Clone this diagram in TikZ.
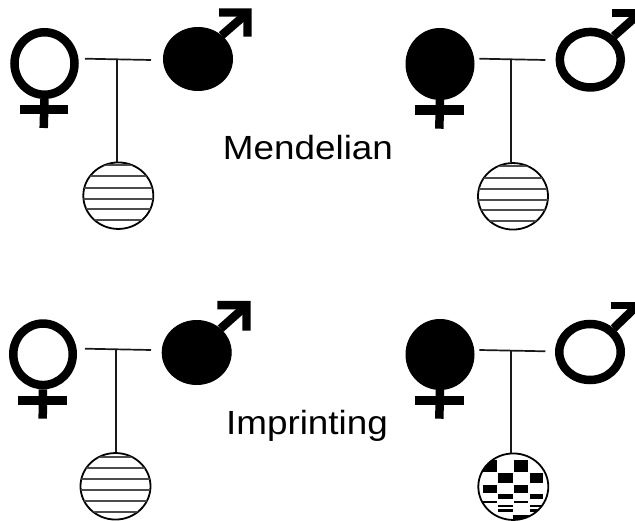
\documentclass[tikz,border=0pt]{standalone}
\usepackage{fontspec}
\setmainfont{Liberation Sans}
\usetikzlibrary{shapes.geometric}

\tikzset{
  sexring/.style={ellipse,draw=black,line width=8.5pt,fill=white,inner sep=0pt},
  sexsolid/.style={ellipse,draw=black,line width=1pt,fill=black,inner sep=0pt},
  childball/.style={ellipse,draw=black,line width=1.8pt,inner sep=0pt,minimum width=70pt,minimum height=66.5pt},
  symline/.style={line width=8.5pt},
  crossline/.style={black!90,line width=1.7pt},
  hatchline/.style={black!70,line width=2.2pt},
  modelabel/.style={anchor=base,xscale=1.1,transform shape,inner sep=0pt,font=\fontsize{33.5}{36}\selectfont}
}

\begin{document}
\begin{tikzpicture}[x=1pt,y=-1pt]
  \clip (0,0) rectangle (635,521);
  %draw upper left family
  \node [sexring,minimum width=60pt,minimum height=62.5pt] (femaleA) at (44.5,63.5) {};
  \node [sexsolid,minimum width=69pt,minimum height=63pt] (maleA) at (198,59) {};
  \coordinate (crossAl) at (85,58.7);
  \coordinate (crossAr) at (151,60);
  \coordinate (crossAm) at (116.7,59.3);
  \node [childball] (childA) at (118.3,195.7) {};
  \coordinate (footA) at (43.7,128);
  \coordinate (tipA) at (248,12.5);
  \draw [symline] (femaleA.south) -- (footA);
  \fill (19.5,105) rectangle (68,114);
  \draw [symline] (maleA.45) -- (tipA);
  \fill (219,8.3) -- (251.7,8.3) -- (251.7,36.7) -- (243.3,36.7) -- (243.3,16.7) -- (219,16.7) -- cycle;
  \draw [crossline] (crossAl) -- (crossAr);
  \draw [crossline] (crossAm) -- (crossAm |- childA.north);
  \begin{scope}
    \clip (childA.center) ellipse [x radius=35,y radius=33];
    \foreach \ypos in {165,176,188,199,209,220}
      \draw [hatchline] (80,\ypos) -- (156,\ypos);
  \end{scope}
  %draw upper right family
  \node [sexsolid,minimum width=68pt,minimum height=71pt] (femaleB) at (440,64) {};
  \node [sexring,minimum width=61pt,minimum height=55.5pt] (maleB) at (590.3,59.7) {};
  \coordinate (crossBl) at (479.3,58.7);
  \coordinate (crossBr) at (545.3,60);
  \coordinate (crossBm) at (511,59.3);
  \node [childball] (childB) at (513,196.3) {};
  \coordinate (footB) at (439.3,128.7);
  \coordinate (tipB) at (640,13);
  \draw [symline] (femaleB.south) -- (footB);
  \fill (415,105) rectangle (464,115);
  \draw [symline] (maleB.45) -- (tipB);
  \fill (611.7,9.3) rectangle (635,16.7);
  \draw [crossline] (crossBl) -- (crossBr);
  \draw [crossline] (crossBm) -- (crossBm |- childB.north);
  \begin{scope}
    \clip (childB.center) ellipse [x radius=35,y radius=33];
    \foreach \ypos in {166,178,189,200,210,221}
      \draw [hatchline] (475,\ypos) -- (551,\ypos);
  \end{scope}
  %draw lower left family
  \node [sexring,minimum width=59.5pt,minimum height=61.5pt] (femaleC) at (43,354.3) {};
  \node [sexsolid,minimum width=69pt,minimum height=64pt] (maleC) at (196.7,352.5) {};
  \coordinate (crossCl) at (85,348.7);
  \coordinate (crossCr) at (151,350);
  \coordinate (crossCm) at (116.3,349.3);
  \node [childball] (childC) at (115.5,486.3) {};
  \coordinate (footC) at (42.7,418.7);
  \coordinate (tipC) at (247,305);
  \draw [symline] (femaleC.south) -- (footC);
  \fill (18.3,395.7) rectangle (67.3,405);
  \draw [symline] (maleC.45) -- (tipC);
  \fill (217.3,301) -- (250.7,301) -- (250.7,330.7) -- (242.3,330.7) -- (242.3,309.3) -- (217.3,309.3) -- cycle;
  \draw [crossline] (crossCl) -- (crossCr);
  \draw [crossline] (crossCm) -- (crossCm |- childC.north);
  \begin{scope}
    \clip (childC.center) ellipse [x radius=35,y radius=33];
    \foreach \ypos in {456.7,468.3,479.3,490,500.7,511.7}
      \draw [hatchline] (78,\ypos) -- (154,\ypos);
  \end{scope}
  %draw lower right family
  \node [sexsolid,minimum width=68pt,minimum height=70pt] (femaleD) at (440,354.5) {};
  \node [sexring,minimum width=61.5pt,minimum height=56pt] (maleD) at (590,352) {};
  \coordinate (crossDl) at (479.3,350);
  \coordinate (crossDr) at (545.3,351.3);
  \coordinate (crossDm) at (511,350.6);
  \node [childball] (childD) at (513.3,486.7) {};
  \coordinate (footD) at (439.3,418.7);
  \coordinate (tipD) at (640,303);
  \draw [symline] (femaleD.south) -- (footD);
  \fill (415,396) rectangle (464,405.3);
  \draw [symline] (maleD.45) -- (tipD);
  \fill (611,301.7) rectangle (635,309.3);
  \draw [crossline] (crossDl) -- (crossDr);
  \draw [crossline] (crossDm) -- (crossDm |- childD.north);
  \begin{scope}
    \clip (childD.center) ellipse [x radius=35,y radius=33];
    \foreach \ya/\yb in {460/471.7,485/492.7,501/503.3}
      \foreach \xa/\xb in {483.3/496.7,514.3/528}
        \fill (\xa,\ya) rectangle (\xb,\yb);
    \foreach \ya/\yb in {473.3/483.3,494.3/499,505/507.3,509.3/512.3}
      \foreach \xa/\xb in {497.7/512.7,530/542.7}
        \fill (\xa,\ya) rectangle (\xb,\yb);
    \fill (513,515) rectangle (530,521);
  \end{scope}
  %draw the labels
  \node [modelabel] (mendel) at (308,160) {Mendelian};
  \node [modelabel] (imprint) at (307,435) {Imprinting};
\end{tikzpicture}
\end{document}
